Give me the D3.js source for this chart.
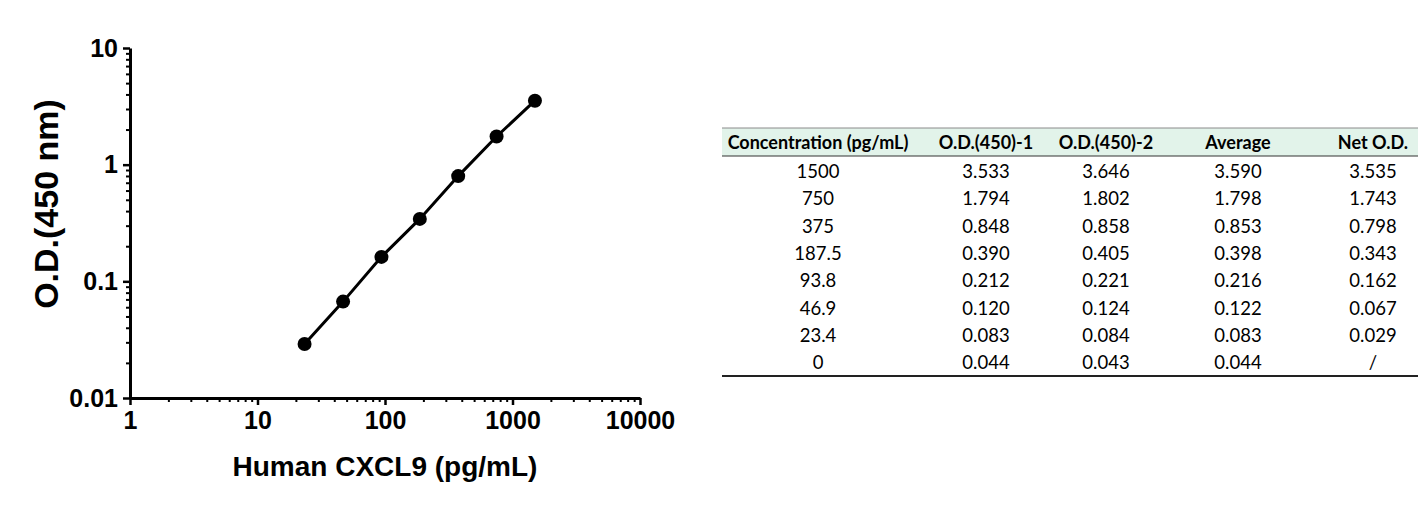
<!DOCTYPE html>
<html>
<head>
<meta charset="utf-8">
<script src="https://cdn.jsdelivr.net/npm/d3@7"></script>
<style>
  html, body { margin: 0; padding: 0; background: #fff; }
  svg { display: block; }
</style>
</head>
<body>
<script>
// standard curve data (conc in pg/mL, net O.D. at 450 nm)
const concentrations = [1500, 750, 375, 187.5, 93.8, 46.9, 23.4]
const netOD = [3.535, 1.743, 0.798, 0.343, 0.162, 0.067, 0.029]

// table columns
const headers = ['Concentration (pg/mL)', 'O.D.(450)-1', 'O.D.(450)-2', 'Average', 'Net O.D.']
const concLabels = ['1500', '750', '375', '187.5', '93.8', '46.9', '23.4', '0']
const od1 = ['3.533', '1.794', '0.848', '0.390', '0.212', '0.120', '0.083', '0.044']
const od2 = ['3.646', '1.802', '0.858', '0.405', '0.221', '0.124', '0.084', '0.043']
const average = ['3.590', '1.798', '0.853', '0.398', '0.216', '0.122', '0.083', '0.044']
const netLabels = ['3.535', '1.743', '0.798', '0.343', '0.162', '0.067', '0.029', '/']

const xMajor = [1, 10, 100, 1000, 10000]
const yMajor = [0.01, 0.1, 1, 10]
const yLabels = ['0.01', '0.1', '1', '10']

const WIDTH = 1419
const HEIGHT = 507

const svg = d3.select('body').append('svg')
  .attr('width', WIDTH)
  .attr('height', HEIGHT)

const x = d3.scaleLog().domain([1, 10000]).range([130, 640])
const y = d3.scaleLog().domain([0.01, 10]).range([398, 48])

// minor ticks 2..9 for each decade
const minorTicks = (majors) => {
  const out = []
  majors.slice(0, -1).forEach(m => {
    for (let k = 2; k <= 9; k++) out.push(m * k)
  })
  return out
}

const tickFont = (g) => g.selectAll('text')
  .attr('font-family', 'Liberation Sans, Arial, sans-serif')
  .attr('font-weight', 'bold')
  .attr('font-size', 25)
  .attr('fill', '#000')

// x axis minor
svg.append('g')
  .attr('transform', `translate(0, ${y(0.01)})`)
  .call(d3.axisBottom(x).tickValues(minorTicks(xMajor)).tickSize(4).tickSizeOuter(0).tickFormat(''))
  .call(g => g.select('.domain').remove())
  .call(g => g.selectAll('line').attr('stroke', '#000').attr('stroke-width', 2))

// x axis major
svg.append('g')
  .attr('transform', `translate(0, ${y(0.01)})`)
  .call(d3.axisBottom(x).tickValues(xMajor).tickSize(7).tickSizeOuter(0).tickPadding(6).tickFormat(d3.format('d')))
  .call(g => g.select('.domain').attr('stroke', '#000').attr('stroke-width', 3))
  .call(g => g.selectAll('line').attr('stroke', '#000').attr('stroke-width', 2.5))
  .call(tickFont)

// y axis minor
svg.append('g')
  .attr('transform', `translate(${x(1)}, 0)`)
  .call(d3.axisLeft(y).tickValues(minorTicks(yMajor)).tickSize(4).tickSizeOuter(0).tickFormat(''))
  .call(g => g.select('.domain').remove())
  .call(g => g.selectAll('line').attr('stroke', '#000').attr('stroke-width', 2))

// y axis major
svg.append('g')
  .attr('transform', `translate(${x(1)}, 0)`)
  .call(d3.axisLeft(y).tickValues(yMajor).tickSize(7).tickSizeOuter(0).tickPadding(5)
    .tickFormat((d, i) => yLabels[i]))
  .call(g => g.select('.domain').attr('stroke', '#000').attr('stroke-width', 3))
  .call(g => g.selectAll('line').attr('stroke', '#000').attr('stroke-width', 2.5))
  .call(tickFont)

// axis titles
svg.append('text')
  .attr('x', 385)
  .attr('y', 476)
  .attr('text-anchor', 'middle')
  .attr('font-family', 'Liberation Sans, Arial, sans-serif')
  .attr('font-weight', 'bold')
  .attr('font-size', 28)
  .text('Human CXCL9 (pg/mL)')

svg.append('text')
  .attr('transform', `translate(58, 204) rotate(-90)`)
  .attr('text-anchor', 'middle')
  .attr('font-family', 'Liberation Sans, Arial, sans-serif')
  .attr('font-weight', 'bold')
  .attr('font-size', 34)
  .text('O.D.(450 nm)')

// curve
const points = concentrations.map((c, i) => [c, netOD[i]])

svg.append('path')
  .datum(points)
  .attr('fill', 'none')
  .attr('stroke', '#000')
  .attr('stroke-width', 3)
  .attr('d', d3.line().x(d => x(d[0])).y(d => y(d[1])))

svg.selectAll('circle.pt')
  .data(points)
  .enter()
  .append('circle')
  .attr('class', 'pt')
  .attr('cx', d => x(d[0]))
  .attr('cy', d => y(d[1]))
  .attr('r', 7)
  .attr('fill', '#000')

// table
const TABLE_LEFT = 722
const TABLE_RIGHT = 1418
const TABLE_TOP = 128
const HEADER_H = 28
const ROW_H = 27.3
const colCenters = [818, 986, 1106, 1238, 1373]
const columns = [concLabels, od1, od2, average, netLabels]

const table = svg.append('g')
  .attr('font-family', 'Lato, Calibri, sans-serif')
  .attr('fill', '#000')

table.append('rect')
  .attr('x', TABLE_LEFT)
  .attr('y', TABLE_TOP)
  .attr('width', TABLE_RIGHT - TABLE_LEFT)
  .attr('height', HEADER_H)
  .attr('fill', '#e2f3ea')

table.append('line')
  .attr('x1', TABLE_LEFT).attr('x2', TABLE_RIGHT)
  .attr('y1', TABLE_TOP).attr('y2', TABLE_TOP)
  .attr('stroke', '#8a8a8a').attr('stroke-width', 1)

table.append('line')
  .attr('x1', TABLE_LEFT).attr('x2', TABLE_RIGHT)
  .attr('y1', TABLE_TOP + HEADER_H).attr('y2', TABLE_TOP + HEADER_H)
  .attr('stroke', '#333').attr('stroke-width', 1)

table.selectAll('text.head')
  .data(headers)
  .enter()
  .append('text')
  .attr('class', 'head')
  .attr('x', (d, i) => colCenters[i])
  .attr('y', TABLE_TOP + HEADER_H / 2 + 1)
  .attr('dy', '0.35em')
  .attr('text-anchor', 'middle')
  .attr('font-weight', 'bold')
  .attr('font-size', 18)
  .text(d => d)

columns.forEach((col, ci) => {
  table.selectAll(`text.c${ci}`)
    .data(col)
    .enter()
    .append('text')
    .attr('class', `c${ci}`)
    .attr('x', colCenters[ci])
    .attr('y', (d, ri) => TABLE_TOP + HEADER_H + 2 + ROW_H * (ri + 0.5))
    .attr('dy', '0.35em')
    .attr('text-anchor', 'middle')
    .attr('font-size', 18.5)
    .text(d => d)
})

table.append('line')
  .attr('x1', TABLE_LEFT).attr('x2', TABLE_RIGHT)
  .attr('y1', 376).attr('y2', 376)
  .attr('stroke', '#222').attr('stroke-width', 2)
</script>
</body>
</html>
